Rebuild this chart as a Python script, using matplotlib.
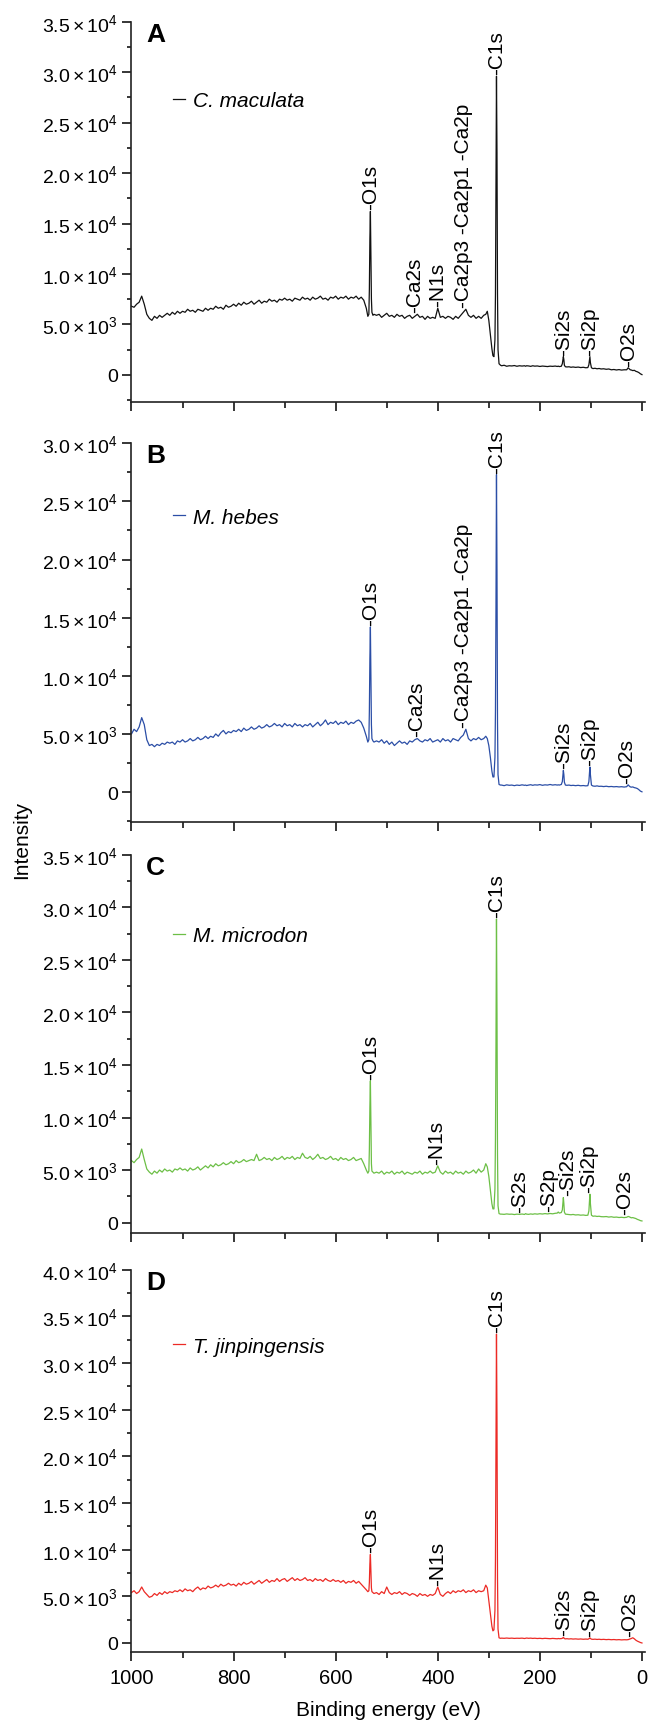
import numpy as np
import matplotlib
matplotlib.use("Agg")
import matplotlib.pyplot as plt
from matplotlib.ticker import MultipleLocator, FuncFormatter

plt.rcParams['font.family'] = 'Liberation Sans'
plt.rcParams['mathtext.fontset'] = 'custom'
plt.rcParams['mathtext.rm'] = 'Liberation Sans'
plt.rcParams['mathtext.it'] = 'Liberation Sans:italic'
plt.rcParams['mathtext.bf'] = 'Liberation Sans:bold'

# XPS survey spectra, binding energy grid (eV), denser around the peaks
energy = np.array(
    list(range(1000, 539, -5))
    + [537, 535, 534, 533, 532, 531, 530, 529, 527, 525]
    + list(range(520, 309, -5))
    + [306, 303, 300, 297, 294, 292, 290, 288, 287, 286, 285, 284, 283, 282, 280, 277]
    + [275, 270, 265, 260, 255, 250, 245, 240, 235, 230, 228, 226, 222, 218, 214, 210,
       205, 200, 195, 190, 185, 180, 175, 170, 166, 164, 162, 158, 156, 154, 153, 152,
       150, 147, 143, 139, 135, 130, 125, 120, 115, 110, 106, 104, 102, 101, 99, 96,
       92, 88, 84, 80, 75, 70, 65, 60, 55, 50, 45, 40, 35, 30, 27, 25, 23, 21, 18,
       15, 12, 9, 6, 3, 0]
)

# intensities in thousands of counts
c_maculata = [
    6.8, 6.7, 7.0, 7.2, 7.8, 7.0, 6.0, 5.6, 5.4, 5.8,
    5.6, 5.9, 5.7, 5.9, 6.1, 5.9, 6.2, 6.0, 6.3, 6.1,
    6.3, 6.2, 6.5, 6.3, 6.4, 6.2, 6.5, 6.4, 6.3, 6.6,
    6.4, 6.6, 6.5, 6.8, 6.6, 6.7, 6.5, 6.9, 6.7, 6.8,
    7.0, 6.8, 7.1, 6.9, 7.2, 7.0, 7.1, 7.3, 7.0, 7.2,
    7.4, 7.1, 7.3, 7.2, 7.5, 7.3, 7.4, 7.2, 7.5, 7.4,
    7.6, 7.4, 7.5, 7.3, 7.6, 7.5, 7.4, 7.7, 7.5, 7.6,
    7.4, 7.7, 7.5, 7.6, 7.8, 7.5, 7.6, 7.4, 7.7, 7.6,
    7.8, 7.5, 7.7, 7.6, 7.8, 7.5, 7.7, 7.6, 7.8, 7.5,
    7.7, 7.4, 6.6,
    5.8, 6.0, 8.5, 13.5, 16.2, 12.0, 7.5, 6.2, 5.9, 6.0,
    5.9, 6.0, 5.7, 5.9, 6.1, 5.8, 5.9, 5.7, 6.0, 5.8,
    5.9, 5.6, 5.8, 5.9, 5.6, 5.8, 6.0, 5.7, 5.8, 5.5,
    5.8, 5.6, 5.7, 5.6, 6.6, 5.7, 5.8, 5.6, 5.8, 5.7,
    5.5, 5.8, 5.6, 5.9, 6.2, 6.5, 5.9, 5.7, 5.9, 5.6,
    5.8, 5.6, 5.9,
    6.0, 6.3, 5.4, 4.0, 2.6, 1.9, 1.8, 3.5, 8.0, 18.0, 29.6, 22.0, 8.0, 2.5, 1.1, 0.95,
    0.9, 0.95, 0.85, 0.9, 0.88, 0.92, 0.85, 0.9, 0.87, 0.9,
    0.85, 0.9, 0.88, 0.84, 0.9, 0.86,
    0.88, 0.83, 0.87, 0.85, 0.82, 0.86, 0.84, 0.87,
    0.83, 0.86, 0.82, 0.85, 1.1, 1.8, 1.5, 0.95, 0.8, 0.78, 0.8, 0.75, 0.78,
    0.74, 0.77, 0.72, 0.75, 0.7, 0.72, 1.0, 1.8, 1.2, 0.7, 0.62, 0.65, 0.6, 0.63, 0.58,
    0.6, 0.55, 0.58, 0.5, 0.53, 0.48, 0.52, 0.47, 0.5, 0.5,
    0.7, 0.6, 0.5, 0.48, 0.42, 0.45, 0.35, 0.3, 0.22, 0.1, 0.02,
]

m_hebes = [
    5.0, 5.4, 5.2, 5.6, 6.4, 5.8, 4.5, 4.0, 4.1, 3.9,
    4.1, 4.0, 4.2, 4.1, 4.3, 4.2, 4.3, 4.1, 4.4, 4.3,
    4.5, 4.3, 4.4, 4.6, 4.4, 4.5, 4.7, 4.5, 4.6, 4.8,
    4.6, 4.8, 4.7, 5.0, 4.8, 5.1, 5.3, 5.0, 5.2, 5.1,
    5.3, 5.2, 5.4, 5.2, 5.5, 5.3, 5.4, 5.6, 5.4, 5.5,
    5.7, 5.5, 5.6, 5.8, 5.6, 5.7, 5.9, 5.7, 5.8, 5.6,
    5.9, 5.7, 5.8, 5.6, 5.9, 5.7, 5.8, 5.6, 5.8, 5.7,
    5.9, 5.6, 5.8, 6.0, 5.7, 5.9, 6.2, 5.8, 6.0, 5.9,
    6.1, 5.8, 6.0, 5.9, 6.1, 5.8, 6.0, 5.9, 6.1, 6.2,
    6.0, 5.5, 4.8,
    4.3, 4.5, 7.0, 11.5, 14.2, 10.0, 5.8, 4.6, 4.4, 4.3,
    4.4, 4.3, 4.5, 4.2, 4.4, 4.1, 4.3, 4.0, 4.2, 4.4,
    4.2, 4.3, 4.1, 4.4, 4.3, 4.5, 4.6, 4.4, 4.3, 4.5,
    4.4, 4.6, 4.3, 4.4, 4.5, 4.3, 4.6, 4.4, 4.5, 4.3,
    4.6, 4.5, 4.4, 4.7, 4.9, 5.4, 4.6, 4.4, 4.6, 4.5,
    4.7, 4.5, 4.6,
    4.8, 4.6, 4.0, 3.0, 1.8, 1.3, 1.3, 3.0, 7.0, 16.0, 27.3, 19.0, 6.0, 1.5, 0.65, 0.6,
    0.6, 0.55, 0.62, 0.58, 0.6, 0.55, 0.6, 0.57, 0.62, 0.58,
    0.6, 0.56, 0.6, 0.63, 0.58, 0.62,
    0.6, 0.64, 0.58, 0.62, 0.6, 0.65, 0.6, 0.63,
    0.6, 0.62, 0.6, 0.65, 0.9, 1.86, 1.5, 0.85, 0.6, 0.58, 0.6, 0.56, 0.58,
    0.55, 0.58, 0.54, 0.56, 0.53, 0.55, 0.9, 2.15, 1.5, 0.6, 0.52, 0.5, 0.53, 0.49, 0.5,
    0.47, 0.5, 0.46, 0.48, 0.45, 0.47, 0.44, 0.46, 0.43, 0.46,
    0.62, 0.52, 0.45, 0.42, 0.44, 0.38, 0.35, 0.3, 0.2, 0.08, 0.02,
]

m_microdon = [
    5.9, 5.7, 6.0, 6.2, 7.0, 6.0, 5.1, 4.8, 4.6, 4.9,
    4.7, 5.0, 4.8, 5.1, 4.9, 5.0, 4.8, 5.1, 5.0, 5.2,
    5.0, 5.1, 4.9, 5.2, 5.0, 5.1, 5.3, 5.0, 5.2, 5.4,
    5.2, 5.5, 5.3, 5.6, 5.4, 5.5, 5.7, 5.5, 5.6, 5.8,
    5.6, 5.9, 5.7, 5.8, 6.0, 5.8, 5.9, 6.0, 5.9, 6.5,
    5.9, 6.0, 6.2, 6.0, 6.1, 5.9, 6.2, 6.0, 6.1, 6.3,
    6.0, 6.2, 6.1, 6.3, 6.0, 6.2, 6.1, 6.6, 6.2, 6.1,
    6.3, 6.0, 6.2, 6.5, 6.1, 6.2, 6.0, 6.1, 6.3, 6.0,
    6.1, 5.9, 6.2, 6.0, 6.1, 5.9, 6.0, 6.2, 5.9, 6.0,
    6.1, 5.6, 5.0,
    4.7, 4.9, 7.0, 11.0, 13.5, 9.5, 5.6, 4.9, 4.8, 4.7,
    4.8, 4.7, 4.9, 4.6, 4.8, 4.7, 4.9, 4.6, 4.8, 4.7,
    4.9, 4.6, 4.8, 4.7, 4.6, 4.8, 4.7, 4.9, 4.6, 4.8,
    4.7, 4.9, 4.7, 4.8, 5.4, 4.8, 4.6, 4.9, 4.7, 4.8,
    4.6, 4.9, 4.7, 4.8, 4.6, 4.9, 4.7, 4.8, 5.0, 4.7,
    5.1, 4.8, 5.0,
    5.6, 5.3, 4.4, 3.1, 1.8, 1.3, 1.3, 3.2, 8.0, 17.0, 28.9, 20.0, 6.5, 1.6, 0.85, 0.8,
    0.8, 0.78, 0.82, 0.79, 0.8, 0.76, 0.8, 0.78, 0.81, 0.77,
    0.85, 0.8, 0.78, 0.82, 0.79, 0.83,
    0.8, 0.84, 0.81, 0.85, 0.82, 0.86, 0.83, 0.88,
    0.9, 1.0, 0.9, 0.95, 1.2, 2.38, 1.8, 1.0, 0.8, 0.78, 0.76, 0.74, 0.77,
    0.72, 0.74, 0.7, 0.72, 0.68, 0.7, 1.1, 2.7, 1.8, 0.7, 0.6, 0.62, 0.58, 0.6, 0.56,
    0.55, 0.57, 0.52, 0.55, 0.5, 0.52, 0.48, 0.5, 0.47, 0.5,
    0.58, 0.55, 0.5, 0.45, 0.47, 0.42, 0.38, 0.3, 0.25, 0.18, 0.15,
]

t_jinpingensis = [
    5.4, 5.6, 5.3, 5.5, 6.0, 5.5, 5.2, 4.9, 5.0, 5.3,
    5.1, 5.4, 5.2, 5.5, 5.3, 5.5, 5.4, 5.6, 5.5, 5.7,
    5.5, 5.8, 5.6, 5.7, 5.5, 5.8, 6.0, 5.7, 5.9, 5.8,
    6.1, 5.9, 6.0, 6.2, 6.0, 6.3, 6.1, 6.2, 6.4, 6.2,
    6.3, 6.1, 6.4, 6.2, 6.5, 6.3, 6.4, 6.6, 6.3, 6.5,
    6.7, 6.4, 6.6, 6.8, 6.5, 6.7, 6.6, 6.9, 6.6, 6.8,
    6.9, 6.6, 6.8, 7.0, 6.7, 6.9, 6.7, 6.8, 7.0, 6.7,
    6.8, 6.6, 6.9, 6.7, 6.8, 6.6, 6.9, 6.7, 6.6, 6.8,
    6.6, 6.7, 6.5, 6.7, 6.4, 6.6, 6.5, 6.7, 6.4, 6.6,
    6.3, 6.0, 5.7,
    5.5, 5.6, 6.5, 8.5, 9.5, 7.8, 5.9, 5.5, 5.4, 5.3,
    5.4, 5.2, 5.5, 5.3, 6.0, 5.4, 5.2, 5.4, 5.3, 5.5,
    5.2, 5.4, 5.3, 5.1, 5.3, 5.2, 5.0, 5.3, 5.1, 5.2,
    5.0, 5.2, 5.1, 5.3, 6.0, 5.2, 5.0, 5.3, 5.5, 5.3,
    5.6, 5.4, 5.6, 5.5, 5.7, 5.4, 5.6, 5.5, 5.7, 5.4,
    5.6, 5.5, 5.6,
    6.2, 5.9, 4.5, 3.0, 1.8, 1.3, 1.4, 3.5, 9.0, 20.0, 33.1, 24.0, 7.0, 1.5, 0.55, 0.5,
    0.52, 0.5, 0.53, 0.5, 0.52, 0.49, 0.51, 0.5, 0.52, 0.48,
    0.5, 0.53, 0.5, 0.52, 0.49, 0.51,
    0.48, 0.5, 0.47, 0.5, 0.48, 0.46, 0.49, 0.47,
    0.45, 0.48, 0.46, 0.47, 0.5, 0.6, 0.55, 0.47, 0.44, 0.46, 0.43, 0.45, 0.42,
    0.44, 0.41, 0.43, 0.4, 0.42, 0.4, 0.45, 0.55, 0.48, 0.41, 0.39, 0.41, 0.38, 0.4, 0.37,
    0.39, 0.36, 0.38, 0.35, 0.37, 0.34, 0.36, 0.33, 0.35, 0.34,
    0.36, 0.4, 0.44, 0.48, 0.56, 0.45, 0.3, 0.2, 0.12, 0.05, 0.0,
]

# peak assignments (label, binding energy)
peaks_a = [('-O1s', 532), ('-Ca2s', 446), ('-N1s', 400), ('-Ca2p3 -Ca2p1 -Ca2p', 349),
           ('-C1s', 285), ('-Si2s', 154), ('-Si2p', 102), ('-O2s', 27)]
peaks_b = [('-O1s', 532), ('-Ca2s', 442), ('-Ca2p3 -Ca2p1 -Ca2p', 349),
           ('-C1s', 285), ('-Si2s', 154), ('-Si2p', 102), ('-O2s', 30)]
peaks_c = [('-O1s', 532), ('-N1s', 402), ('-C1s', 285), ('-S2s', 240), ('-S2p', 183),
           ('-Si2s', 146), ('-Si2p', 104), ('-O2s', 33)]
peaks_d = [('-O1s', 532), ('-N1s', 400), ('-C1s', 285), ('-Si2s', 154),
           ('-Si2p', 102), ('-O2s', 25)]

samples = ['C. maculata', 'M. hebes', 'M. microdon', 'T. jinpingensis']
panel_letters = ['A', 'B', 'C', 'D']
colors = ['#111111', '#2b4ea6', '#6cbf46', '#ec2a25']
spectra = [c_maculata, m_hebes, m_microdon, t_jinpingensis]
peak_sets = [peaks_a, peaks_b, peaks_c, peaks_d]
y_limits = [(-2700, 35000), (-2550, 30000), (-1000, 35000), (-1000, 40000)]

# axes rectangles in figure fractions (left, bottom, width, height)
rects = [
    (0.2026, 0.7662, 0.7905, 0.2206),
    (0.2026, 0.5228, 0.7905, 0.2195),
    (0.2026, 0.2842, 0.7905, 0.2193),
    (0.2026, 0.0410, 0.7905, 0.2219),
]
legend_y = [0.792, 0.805, 0.786, 0.80]


def sci_label(v, pos):
    if v == 0:
        return '0'
    exp = int(np.floor(np.log10(abs(v))))
    return r'$%.1f\times10^{%d}$' % (v / 10 ** exp, exp)


for s in spectra:
    assert len(s) == len(energy)

fig = plt.figure(figsize=(6.49, 17.24), dpi=100)

for i in range(4):
    ax = fig.add_axes(rects[i])
    counts = np.array(spectra[i]) * 1000
    ax.plot(energy, counts, color=colors[i], linewidth=0.9, label=samples[i])

    ax.set_xlim(1000, -5)
    ax.set_ylim(*y_limits[i])

    for side in ['top', 'right']:
        ax.spines[side].set_visible(False)
    for side in ['left', 'bottom']:
        ax.spines[side].set_linewidth(1.2)
        ax.spines[side].set_color('#222222')

    ax.xaxis.set_major_locator(MultipleLocator(200))
    ax.xaxis.set_minor_locator(MultipleLocator(100))
    ax.yaxis.set_major_locator(MultipleLocator(5000))
    ax.yaxis.set_minor_locator(MultipleLocator(2500))
    ax.yaxis.set_major_formatter(FuncFormatter(sci_label))
    ax.tick_params(axis='y', which='major', length=6.5, width=1.1, labelsize=14, pad=3)
    ax.tick_params(axis='y', which='minor', length=3, width=1.1)
    ax.tick_params(axis='x', which='major', length=6.5, width=1.1, labelsize=14.5, pad=4.5)
    ax.tick_params(axis='x', which='minor', length=4, width=1.1)
    if i < 3:
        ax.tick_params(axis='x', labelbottom=False)

    # panel letter
    ax.text(0.028, 1.0, panel_letters[i], transform=ax.transAxes, fontsize=19,
            fontweight='bold', va='top', ha='left')

    ax.legend(loc='center left', bbox_to_anchor=(0.080, legend_y[i]), frameon=False,
              handlelength=0.6, handletextpad=0.4, borderpad=0, borderaxespad=0,
              prop={'style': 'italic', 'size': 15})

    # peak labels sit just above the highest point near each assignment
    for name, e in peak_sets[i]:
        near = np.abs(energy - e) <= 10
        top = counts[near].max()
        ax.annotate(name, xy=(e, top), xytext=(0, 1.5), textcoords='offset points',
                    rotation=90, ha='center', va='bottom', fontsize=15)

    if i == 3:
        ax.set_xlabel('Binding energy (eV)', fontsize=15, labelpad=10)

fig.text(0.033, 1 - 840 / 1724, 'Intensity', rotation=90, ha='center', va='center',
         fontsize=15)

fig.savefig('out.png', dpi=100)
